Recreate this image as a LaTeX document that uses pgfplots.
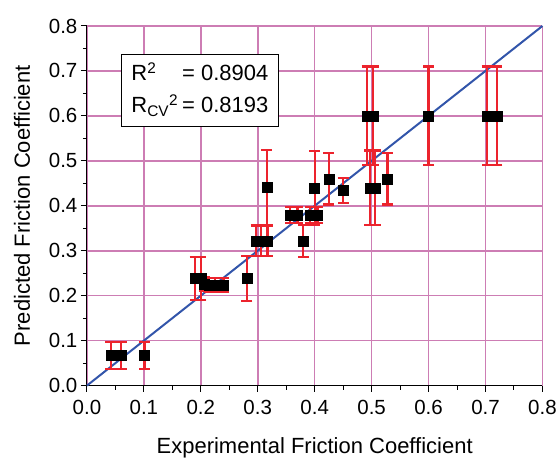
\documentclass[border=0pt]{standalone}
\usepackage{pgfplots}
\pgfplotsset{compat=1.18}
\usepackage{fontspec}
\setmainfont{Liberation Sans}
\definecolor{gridc}{RGB}{205,125,180}
\definecolor{errc}{RGB}{236,35,45}
\definecolor{fitc}{RGB}{50,85,170}
\begin{document}
\begin{tikzpicture}
\begin{axis}[
  scale only axis, width=456pt, height=360pt,
  xmin=0, xmax=0.8, ymin=0, ymax=0.8,
  axis x line*=bottom, axis y line*=left,
  axis line style={black, line width=1pt, -},
  xtick={0,0.1,0.2,0.3,0.4,0.5,0.6,0.7,0.8},
  ytick={0,0.1,0.2,0.3,0.4,0.5,0.6,0.7,0.8},
  minor x tick num=1, minor y tick num=1,
  tick align=outside,
  major tick length=6pt, minor tick length=4pt,
  tick style={black, line width=1pt},
  grid=major,
  major grid style={gridc, line width=1.6pt},
  xticklabel style={yshift=-5pt, /pgf/number format/.cd, fixed, fixed zerofill, precision=1},
  yticklabel style={/pgf/number format/.cd, fixed, fixed zerofill, precision=1},
  /pgf/number format/assume math mode=true,
  ticklabel style={font=\fontsize{20.5}{22}\selectfont},
  xlabel={Experimental Friction Coefficient},
  ylabel={Predicted Friction Coefficient},
  label style={font=\fontsize{22}{24}\selectfont},
  xlabel style={yshift=-16pt},
  ylabel style={yshift=12pt},
  clip=false,
]
\draw[draw=none] ([xshift=-87pt,yshift=-69pt]rel axis cs:0,0) rectangle ([xshift=17pt,yshift=26pt]rel axis cs:1,1);
\addplot[fitc, line width=2pt] coordinates {(0,0) (0.8,0.8)};
\addplot[only marks, mark=square*, mark size=5pt, mark options={black, fill=black},
  error bars/.cd, y dir=both, y explicit,
  error bar style={errc, line width=2.2pt},
  error mark options={errc, rotate=90, mark size=5.5pt, line width=2.2pt}]
  table[x=x, y=y, y error=e] {
x y e
0.042 0.067 0.030
0.060 0.067 0.030
0.101 0.067 0.030
0.190 0.238 0.048
0.200 0.238 0.048
0.206 0.226 0.015
0.215 0.224 0.015
0.225 0.224 0.015
0.240 0.224 0.015
0.281 0.238 0.050
0.297 0.322 0.034
0.306 0.322 0.034
0.317 0.322 0.034
0.316 0.441 0.083
0.357 0.380 0.018
0.370 0.380 0.018
0.392 0.380 0.018
0.405 0.380 0.018
0.380 0.322 0.036
0.400 0.440 0.082
0.425 0.460 0.057
0.450 0.434 0.027
0.497 0.440 0.083
0.506 0.440 0.083
0.528 0.460 0.057
0.492 0.600 0.110
0.503 0.600 0.110
0.600 0.600 0.110
0.703 0.600 0.110
0.720 0.600 0.110
};
\node[draw=black, line width=1pt, fill=white, anchor=north west, inner sep=0pt,
  minimum width=158pt, minimum height=72pt,
  font=\fontsize{22}{30}\selectfont]
  at (axis cs:0.059,0.737) {%
  \begin{tabular}{@{}l@{\hspace{4pt}}l@{}}
  R\textsuperscript{2} & = 0.8904\\[2pt]
  R\textsubscript{CV}\textsuperscript{2} & = 0.8193
  \end{tabular}};
\end{axis}
\end{tikzpicture}
\end{document}
